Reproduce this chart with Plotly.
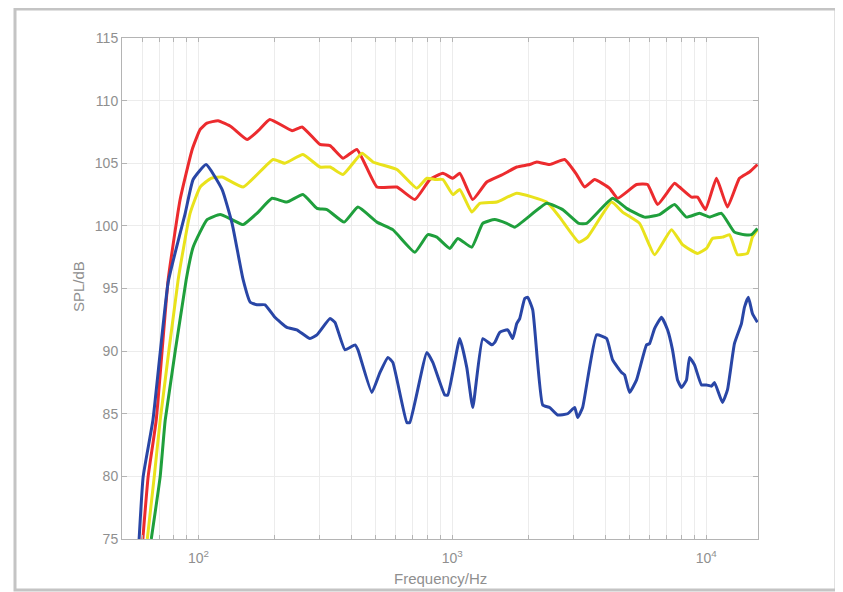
import plotly.graph_objects as go
import math

# ---- data ----
red_f = [60.4, 63.4, 68.2, 76.0, 84.7, 94.5, 101.6, 108, 119.5, 135, 155.5, 172, 191, 234, 256, 301, 330, 371,
         421, 505, 605, 712, 816, 918, 1005, 1070, 1204, 1367, 1580, 1794, 2018, 2150, 2418, 2770, 3089,
         3321, 3636, 4165, 4477, 5319, 5877, 6433, 7504, 7852, 8753, 9242, 9938, 10978, 12129, 13521,
         14802, 15915]
red_db = [75.0, 80.0, 84.5, 95.7, 102.1, 106.1, 107.7, 108.2, 108.4, 107.9, 106.9, 107.6, 108.5, 107.6, 107.9, 106.5,
          106.4, 105.4, 106.1, 103.1, 103.1, 102.1, 103.7, 104.2, 103.8, 104.2, 102.1, 103.5, 104.1, 104.7,
          104.9, 105.1, 104.9, 105.3, 104.1, 103.1, 103.7, 103.0, 102.2, 103.3, 103.3, 101.7, 103.4, 103.1,
          102.3, 102.3, 101.3, 103.8, 101.5, 103.8, 104.3, 104.9]

yellow_f = [62.9, 67.0, 70.7, 83.2, 92.7, 101.6, 112, 124, 150, 197, 219, 258, 301, 330, 371, 441, 487, 605,
            725, 794, 853, 918, 1005, 1070, 1193, 1283, 1497, 1794, 2353, 2648, 3150, 3412, 4241, 4685,
            5466, 6261, 7303, 8068, 9242, 10028, 10588, 11591, 12351, 13278, 14538, 15210, 15915]
yellow_db = [75.0, 80.0, 84.5, 95.7, 101.0, 103.1, 103.8, 103.9, 103.1, 105.3, 105.0, 105.7, 104.7, 104.7,
             104.1, 105.8, 105.1, 104.5, 103.0, 103.8, 103.7, 103.7, 102.5, 102.9, 101.1, 101.8, 101.9,
             102.6, 101.9, 100.7, 98.7, 99.1, 101.9, 101.1, 100.2, 97.7, 99.7, 98.5, 97.8, 98.2, 99.0,
             99.1, 99.3, 97.7, 97.8, 99.1, 99.7]

green_f = [65.2, 70.7, 74.0, 89.5, 95.3, 108.2, 121.7, 135.7, 150, 170, 195, 223, 258, 293, 321, 375, 425,
           505, 583, 712, 801, 869, 978, 1051, 1193, 1318, 1470, 1638, 1762, 2353, 2721, 3150, 3382, 4280,
           4858, 5719, 6551, 7504, 8365, 9410, 10304, 11487, 12922, 14148, 15073, 15915]
green_db = [75.0, 80.0, 84.5, 95.7, 98.3, 100.5, 100.9, 100.5, 100.1, 101.0, 102.2, 101.9, 102.5, 101.4,
            101.3, 100.3, 101.5, 100.3, 99.7, 97.9, 99.3, 99.1, 98.2, 99.0, 98.3, 100.2, 100.5, 100.2,
            99.9, 101.8, 101.3, 100.2, 100.2, 102.2, 101.4, 100.7, 100.9, 101.7, 100.7, 101.0, 100.7,
            101.0, 99.5, 99.3, 99.3, 99.8]

blue_f = [58.4, 60.6, 66.2, 76.0, 88.7, 95.3, 107.2, 124, 135.7, 150, 160, 170, 183, 200, 223, 244, 275, 293,
          330, 345, 378, 414, 425, 482, 519, 558, 583, 662, 680, 794, 838, 934, 960, 1070, 1140, 1204,
          1318, 1430, 1470, 1538, 1653, 1730, 1794, 1843, 1929, 1982, 2074, 2270, 2418, 2600, 2847,
          3034, 3117, 3261, 3702, 4054, 4280, 4643, 4770, 4992, 5319, 5824, 5984, 6261, 6670, 7043,
          7369, 7711, 7995, 8365, 8596, 8995, 9583, 10028, 10493, 10782, 11591, 12129, 12922, 13769,
          14148, 14669, 15210, 15915]
blue_db = [75.0, 80.0, 84.5, 95.5, 101.0, 103.7, 104.9, 102.9, 100.2, 95.7, 93.9, 93.7, 93.7, 92.7, 91.9,
           91.7, 91.0, 91.3, 92.6, 92.3, 90.1, 90.5, 90.1, 86.7, 88.3, 89.5, 89.1, 84.3, 84.3, 89.9, 89.1,
           86.5, 86.5, 91.0, 88.7, 85.5, 91.0, 90.5, 90.7, 91.5, 91.7, 91.0, 92.2, 92.6, 94.2, 94.3, 93.3,
           85.7, 85.5, 84.9, 85.0, 85.5, 84.7, 85.5, 91.3, 91.0, 89.3, 88.3, 88.1, 86.7, 87.7, 90.5, 90.6,
           91.8, 92.7, 91.7, 90.1, 87.7, 87.1, 87.7, 89.5, 88.9, 87.3, 87.3, 87.2, 87.5, 85.9, 86.9, 90.6,
           92.2, 93.5, 94.3, 93.0, 92.3]

x_major = [100, 1000, 10000]
x_major_text = ["10<sup>2</sup>", "10<sup>3</sup>", "10<sup>4</sup>"]
y_ticks = [75, 80, 85, 90, 95, 100, 105, 110, 115]

# ---- figure ----
series = [
    (red_f, red_db, "#ec2b2e"),
    (yellow_f, yellow_db, "#e9e21c"),
    (green_f, green_db, "#1f9f3c"),
    (blue_f, blue_db, "#2946a6"),
]

fig = go.Figure()
for f, db, c in series:
    fig.add_trace(go.Scatter(x=f, y=db, mode="lines",
                             line=dict(color=c, width=3, shape="spline", smoothing=0.4),
                             showlegend=False, hoverinfo="skip"))

# all log tick positions (major + minor) between 50 Hz and 16 kHz
tickvals, ticktext = [], []
for dec in [10, 100, 1000, 10000]:
    for m in range(1, 10):
        v = dec * m
        if 50 <= v <= 16000:
            tickvals.append(v)
            ticktext.append(x_major_text[x_major.index(v)] if v in x_major else "")

gray_txt = "#8f8f8f"
axis_col = "#b4b4b4"
grid_col = "#ececec"
FONT = "Liberation Sans, Arial, sans-serif"

fig.update_xaxes(type="log", range=[math.log10(50), math.log10(16000)],
                 tickvals=tickvals, ticktext=ticktext, tickangle=0,
                 ticks="inside", ticklen=4, tickcolor=axis_col, ticklabelstandoff=6,
                 showgrid=True, gridcolor=grid_col, gridwidth=1,
                 showline=True, linecolor=axis_col, linewidth=1, mirror="ticks",
                 zeroline=False,
                 tickfont=dict(family=FONT, size=14, color=gray_txt))
fig.update_yaxes(range=[75, 115], tickvals=y_ticks,
                 ticks="inside", ticklen=5, tickcolor=axis_col,
                 showgrid=True, gridcolor=grid_col, gridwidth=1,
                 showline=True, linecolor=axis_col, linewidth=1, mirror="ticks",
                 zeroline=False,
                 tickfont=dict(family=FONT, size=14, color=gray_txt))

# page body has an 8px margin: figure-pixel = screen-pixel - 8
OFF = 8
W, H = 843 - OFF, 592 - OFF
L, R, T, B = 122 - OFF, 758 - OFF, 38 - OFF, 539 - OFF
pw, ph = float(R - L), float(B - T)
def px(x):
    return (x - OFF - L) / pw
def py(y):
    return (B - (y - OFF)) / ph

fig.add_shape(type="rect", xref="paper", yref="paper",
              x0=px(15), x1=px(836), y0=py(590), y1=py(OFF + 1),
              line=dict(color="#c4c4c4", width=3), fillcolor="rgba(0,0,0,0)", layer="below")

fig.add_annotation(text="Frequency/Hz", xref="paper", yref="paper", x=px(440), y=py(578),
                   showarrow=False, xanchor="center", yanchor="middle",
                   font=dict(family=FONT, size=15, color=gray_txt))
fig.add_annotation(text="SPL/dB", xref="paper", yref="paper", x=px(78), y=py(287), textangle=-90,
                   showarrow=False, xanchor="center", yanchor="middle",
                   font=dict(family=FONT, size=15, color=gray_txt))

fig.update_layout(width=W, height=H,
                  margin=dict(l=L, r=W - R, t=T, b=H - B),
                  paper_bgcolor="white", plot_bgcolor="white")

fig.write_html("out.html")
